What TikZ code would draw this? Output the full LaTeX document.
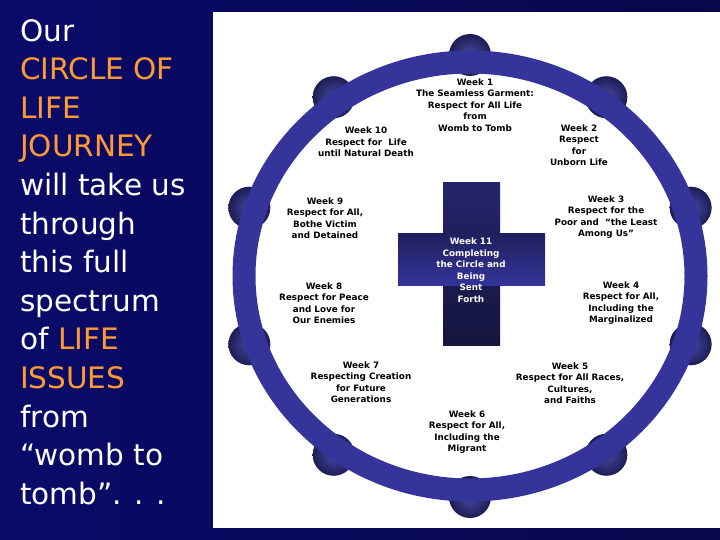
\documentclass[tikz,border=0pt]{standalone}
\usepackage{fontspec}
\setmainfont{DejaVu Sans}
\begin{document}
\definecolor{navy}{HTML}{0A0A6A}
\definecolor{ringc}{HTML}{34349A}
\definecolor{orng}{HTML}{FF9A33}
\tikzset{wk/.style={align=center,font=\bfseries\fontsize{8.8}{11.5}\selectfont,inner sep=0pt},
bump/.style={circle,minimum size=42pt,inner sep=0pt,shading=radial,inner color=ringc!90!white,outer color=ringc!55!black}}
\begin{tikzpicture}[x=1pt,y=-1pt]
\useasboundingbox (0,0) rectangle (720,540);
\shade[left color=navy,right color=navy!70!black] (0,0) rectangle (720,540);
\fill[white] (213,12) rectangle (720,528);
\foreach \a in {0,36,...,324}{
  \node[bump] at ({470+232*sin(\a)},{276-221*cos(\a)}) {};
}
\draw[ringc,line width=23pt] (470,276) ellipse [x radius=226,y radius=214];
\shade[top color=ringc!70!black,bottom color=ringc!40!black] (443,183) rectangle (500,345);
\shade[top color=ringc!60!black,bottom color=ringc] (398,233) rectangle (545,285);
\node[wk] (w1) at (475,105) {Week 1\\The Seamless Garment:\\Respect for All Life\\from\\Womb to Tomb};
\node[wk] (w2) at (579,145) {Week 2\\Respect\\for\\Unborn Life};
\node[wk] (w3) at (606,217) {Week 3\\Respect for the\\Poor and ~“the Least\\Among Us”};
\node[wk] (w4) at (621,303) {Week 4\\Respect for All,\\Including the\\Marginalized};
\node[wk] (w5) at (570,383) {Week 5\\Respect for All Races,\\Cultures,\\and Faiths};
\node[wk] (w6) at (467,432) {Week 6\\Respect for All,\\Including the\\Migrant};
\node[wk] (w7) at (361,382) {Week 7\\Respecting Creation\\for Future\\Generations};
\node[wk] (w8) at (324,303) {Week 8\\Respect for Peace\\and Love for\\Our Enemies};
\node[wk] (w9) at (325,218) {Week 9\\Respect for All,\\Bothe Victim\\and Detained};
\node[wk] (w10) at (366,142) {Week 10\\Respect for ~Life\\until Natural Death};
\node[wk,white] (w11) at (471,270) {Week 11\\Completing\\the Circle and\\Being\\Sent\\Forth};
\node[anchor=north west,align=left,inner sep=0pt,white,font=\fontsize{29.5}{38.6}\selectfont] (txt) at (20,19)
 {Our\\\textcolor{orng}{CIRCLE OF}\\\textcolor{orng}{LIFE}\\\textcolor{orng}{JOURNEY}\\will take us\\through\\this full\\spectrum\\of \textcolor{orng}{LIFE}\\\textcolor{orng}{ISSUES}\\from\\“womb to\\tomb”. . .};
\end{tikzpicture}
\end{document}
